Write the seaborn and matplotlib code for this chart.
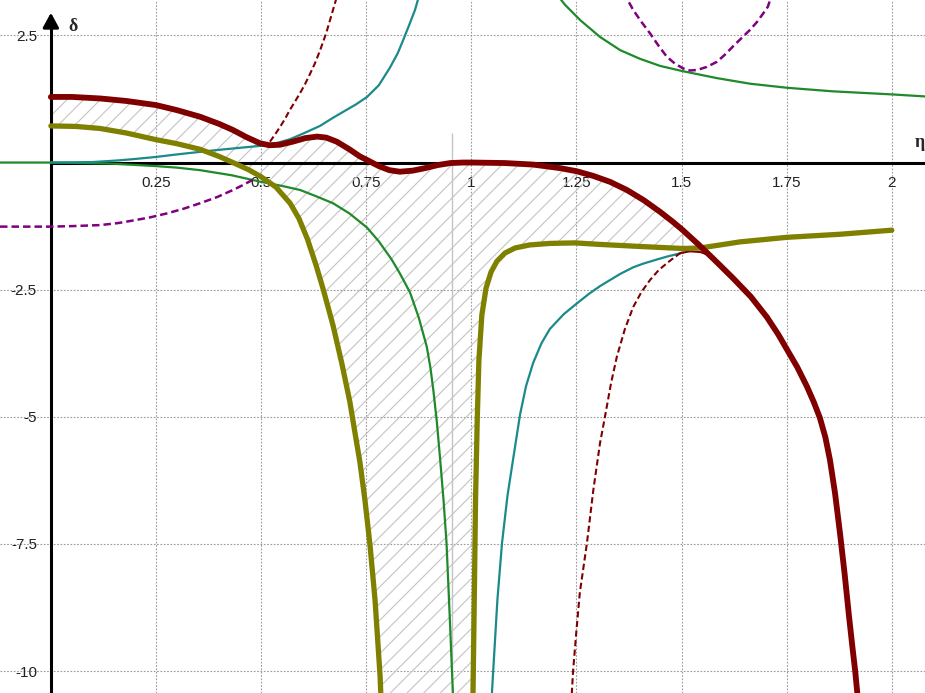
import numpy as np
import matplotlib
matplotlib.use("Agg")
import matplotlib.pyplot as plt
import seaborn as sns

# ---------------------------------------------------------------- data
# thick maroon curve
eta_red = [0.0, 0.05, 0.117, 0.18, 0.25, 0.30, 0.355, 0.40, 0.433, 0.465, 0.497, 0.52,
           0.545, 0.575, 0.605, 0.633, 0.655, 0.68, 0.71, 0.735, 0.752, 0.78, 0.805,
           0.83, 0.86, 0.89, 0.92, 0.95, 0.98, 1.004, 1.08, 1.147, 1.211, 1.25, 1.289,
           1.33, 1.370, 1.41, 1.449, 1.48, 1.503, 1.544, 1.584, 1.622, 1.665, 1.703,
           1.73, 1.751, 1.775, 1.798, 1.815, 1.829, 1.842, 1.853, 1.865, 1.877, 1.888,
           1.898, 1.906, 1.913, 1.918, 1.925]
delta_red = [1.29, 1.29, 1.26, 1.21, 1.13, 1.03, 0.90, 0.76, 0.64, 0.50, 0.38, 0.34,
             0.35, 0.41, 0.48, 0.51, 0.49, 0.41, 0.26, 0.12, 0.05, -0.07, -0.15,
             -0.18, -0.16, -0.11, -0.05, -0.01, 0.0, 0.0, -0.01, -0.04, -0.11, -0.17, -0.26,
             -0.38, -0.54, -0.74, -0.97, -1.17, -1.33, -1.64, -1.96, -2.27, -2.64, -3.04,
             -3.38, -3.68, -4.02, -4.40, -4.72, -5.02, -5.40, -5.85, -6.50, -7.30, -8.10,
             -8.90, -9.50, -10.0, -10.43, -11.5]

# thick olive curve, two branches around its pole
eta_olive_l = [0.0, 0.06, 0.117, 0.18, 0.25, 0.30, 0.355, 0.40, 0.433, 0.47, 0.5, 0.535,
               0.569, 0.59, 0.61, 0.63, 0.648, 0.671, 0.692, 0.711, 0.723, 0.735, 0.747,
               0.759, 0.771, 0.783, 0.790]
delta_olive_l = [0.72, 0.71, 0.67, 0.58, 0.45, 0.37, 0.26, 0.12, 0.0, -0.14, -0.28, -0.48,
                 -0.80, -1.10, -1.50, -2.0, -2.5, -3.20, -3.95, -4.70, -5.30, -5.89, -6.64,
                 -7.52, -8.60, -10.1, -11.5]
eta_olive_r = [1.003, 1.004, 1.007, 1.010, 1.014, 1.018, 1.025, 1.035, 1.047, 1.061,
               1.080, 1.104, 1.139, 1.187, 1.247, 1.306, 1.401, 1.503, 1.544, 1.592,
               1.639, 1.751, 1.877, 2.0]
delta_olive_r = [-11.5, -10.43, -8.60, -6.64, -5.07, -3.89, -3.0, -2.47, -2.15, -1.94,
                 -1.78, -1.68, -1.62, -1.59, -1.58, -1.61, -1.65, -1.69, -1.68, -1.62,
                 -1.56, -1.47, -1.41, -1.33]

# thin green curve
eta_green_l = [-0.121, 0.0, 0.14, 0.25, 0.30, 0.355, 0.43, 0.5, 0.55, 0.593, 0.63,
               0.671, 0.71, 0.752, 0.78, 0.81, 0.83, 0.854, 0.875, 0.894, 0.903, 0.91,
               0.918, 0.926, 0.934, 0.941, 0.949, 0.954, 0.957, 0.959]
delta_green_l = [0.0, 0.0, -0.02, -0.07, -0.10, -0.15, -0.25, -0.38, -0.46, -0.54, -0.66,
                 -0.80, -1.0, -1.28, -1.55, -1.90, -2.18, -2.55, -3.05, -3.62, -4.05, -4.5,
                 -5.1, -5.85, -6.65, -7.48, -9.0, -10.0, -10.6, -11.5]
eta_green_r = [1.199, 1.223, 1.259, 1.306, 1.354, 1.401, 1.449, 1.501, 1.584, 1.663,
               1.751, 1.860, 2.0, 2.079]
delta_green_r = [3.35, 3.10, 2.80, 2.47, 2.21, 2.04, 1.90, 1.80, 1.66, 1.55,
                 1.47, 1.40, 1.34, 1.30]

# thin teal curve
eta_teal_l = [0.0, 0.1, 0.157, 0.2, 0.25, 0.3, 0.355, 0.4, 0.45, 0.5, 0.54, 0.569, 0.6,
              0.64, 0.671, 0.70, 0.725, 0.752, 0.78, 0.806, 0.825, 0.838, 0.852, 0.866,
              0.88]
delta_teal_l = [0.0, 0.01, 0.04, 0.07, 0.11, 0.16, 0.21, 0.25, 0.29, 0.33, 0.39, 0.46,
                0.57, 0.72, 0.88, 1.02, 1.14, 1.29, 1.52, 1.86, 2.15, 2.41, 2.70, 3.0, 3.4]
eta_teal_r = [1.047, 1.049, 1.052, 1.062, 1.073, 1.086, 1.100, 1.116, 1.13, 1.147,
              1.167, 1.187, 1.22, 1.251, 1.28, 1.306, 1.33, 1.354, 1.385, 1.408, 1.44,
              1.465, 1.504]
delta_teal_r = [-11.5, -10.43, -10.0, -8.6, -7.48, -6.55, -5.80, -4.95, -4.40, -3.94,
                -3.55, -3.27, -2.98, -2.77, -2.58, -2.43, -2.31, -2.19, -2.06, -1.99, -1.91,
                -1.85, -1.77]

# thin dashed maroon curve
eta_dred_l = [0.521, 0.533, 0.545, 0.557, 0.568, 0.580, 0.593, 0.605, 0.615, 0.628,
              0.64, 0.655, 0.671, 0.685]
delta_dred_l = [0.41, 0.55, 0.70, 0.86, 1.03, 1.19, 1.37, 1.55, 1.72, 1.95,
                2.2, 2.55, 3.0, 3.4]
eta_dred_r = [1.237, 1.239, 1.242, 1.250, 1.258, 1.275, 1.29, 1.306, 1.318, 1.332,
              1.346, 1.365, 1.385, 1.405, 1.425, 1.445, 1.465, 1.482, 1.497]
delta_dred_r = [-11.5, -10.43, -10.0, -9.2, -8.46, -7.48, -6.45, -5.52, -4.99, -4.35,
                -3.82, -3.28, -2.84, -2.54, -2.31, -2.12, -1.98, -1.87, -1.78]
eta_dred_arc = [1.497, 1.52, 1.545, 1.565]
delta_dred_arc = [-1.78, -1.745, -1.76, -1.82]

# dashed purple curve
eta_purple_l = [-0.121, -0.0975, -0.002, 0.05, 0.117, 0.16, 0.195, 0.235, 0.276, 0.315,
                0.355, 0.395, 0.433, 0.455, 0.48]
delta_purple_l = [-1.26, -1.26, -1.26, -1.25, -1.23, -1.19, -1.14, -1.08, -1.00, -0.91,
                  -0.80, -0.68, -0.54, -0.45, -0.34]
eta_purple_r = [1.375, 1.385, 1.405, 1.425, 1.445, 1.465, 1.485, 1.504, 1.52, 1.537,
                1.56, 1.584, 1.603, 1.622, 1.643, 1.663, 1.68, 1.694, 1.705, 1.715]
delta_purple_r = [3.15, 3.00, 2.76, 2.54, 2.30, 2.08, 1.94, 1.85, 1.81, 1.82,
                  1.88, 1.98, 2.12, 2.28, 2.45, 2.61, 2.77, 2.93, 3.06, 3.3]

# axes, ticks and markers
x_ticks = [0.25, 0.5, 0.75, 1.0, 1.25, 1.5, 1.75, 2.0]
x_tick_labels = ["0.25", "0.5", "0.75", "1", "1.25", "1.5", "1.75", "2"]
y_ticks = [2.5, -2.5, -5, -7.5, -10]
y_tick_labels = ["2.5", "-2.5", "-5", "-7.5", "-10"]
x_range = (-0.121, 2.079)
y_range = (-10.43, 3.196)
hatch_right = 1.503
asymptote_eta = 0.954
asymptote_top = 0.58

# ---------------------------------------------------------------- style
sns.set_theme(style="white")
plt.rcParams["font.family"] = ["Liberation Sans", "DejaVu Sans"]
plt.rcParams["axes.unicode_minus"] = False
plt.rcParams["hatch.linewidth"] = 0.8

MAROON = "#800000"
OLIVE = "#808000"
TEAL = "#1a8a8a"
GREEN = "#1e8a2a"
PURPLE = "#800080"

fig = plt.figure(figsize=(9.25, 6.93), dpi=100)
ax = fig.add_axes([0, 0, 1, 1])
ax.set_facecolor("white")
ax.set_xlim(*x_range)
ax.set_ylim(*y_range)

# axes through the origin
for side in ("top", "right"):
    ax.spines[side].set_visible(False)
ax.spines["left"].set_position(("data", 0))
ax.spines["bottom"].set_position(("data", 0))
for side in ("left", "bottom"):
    ax.spines[side].set_linewidth(2.2)
    ax.spines[side].set_color("black")
    ax.spines[side].set_zorder(2.5)
ax.spines["left"].set_bounds(-12, 2.85)
ax.spines["bottom"].set_bounds(0, 2.2)

ax.set_xticks(x_ticks)
ax.set_xticklabels(x_tick_labels)
ax.set_yticks(y_ticks)
ax.set_yticklabels(y_tick_labels)
ax.tick_params(axis="both", direction="inout", length=15, width=1.2, colors="black",
               labelsize=11, pad=2.5, labelcolor="#222222")

ax.grid(True, color="#9a9a9a", linestyle=(0, (1.5, 1.5)), linewidth=0.8)
ax.set_axisbelow(True)

# hatched region between the maroon (upper) and olive (lower) curves
red_e = np.array(eta_red)
red_d = np.array(delta_red)
keep = red_e <= hatch_right
ol_re = np.array(eta_olive_r)
ol_rd = np.array(delta_olive_r)
keep_o = ol_re <= hatch_right
poly_e = np.concatenate([red_e[keep], ol_re[keep_o][::-1], np.array(eta_olive_l)[::-1]])
poly_d = np.concatenate([red_d[keep], ol_rd[keep_o][::-1], np.array(delta_olive_l)[::-1]])
ax.fill(poly_e, poly_d, facecolor="none", edgecolor="#c4c4c4", hatch="//",
        linewidth=0.9, zorder=1.5)
ax.vlines(asymptote_eta, y_range[0] - 1, asymptote_top, color="#c4c4c4", lw=1.0, zorder=1.5)


def curve(e, d, color, lw, ls="-", z=3):
    sns.lineplot(x=e, y=d, ax=ax, color=color, linewidth=lw, linestyle=ls,
                 sort=False, estimator=None, zorder=z, legend=False,
                 solid_joinstyle="round", solid_capstyle="round")


# thin curves
curve(eta_green_l, delta_green_l, GREEN, 1.6)
curve(eta_green_r, delta_green_r, GREEN, 1.6)
curve(eta_teal_l, delta_teal_l, TEAL, 1.6)
curve(eta_teal_r, delta_teal_r, TEAL, 1.6)
curve(eta_dred_l, delta_dred_l, MAROON, 1.5, (0, (3, 1.6)))
curve(eta_dred_r, delta_dred_r, MAROON, 1.5, (0, (3, 1.6)))
curve(eta_dred_arc, delta_dred_arc, MAROON, 1.5)
curve(eta_purple_l, delta_purple_l, PURPLE, 1.8, (0, (3, 1.6)))
curve(eta_purple_r, delta_purple_r, PURPLE, 1.8, (0, (3, 1.6)))

# thick curves
curve(eta_olive_l, delta_olive_l, OLIVE, 3.8, z=4)
curve(eta_olive_r, delta_olive_r, OLIVE, 3.8, z=4)
curve(eta_red, delta_red, MAROON, 4.2, z=5)

# arrow on the vertical axis and axis names
ax.annotate("", xy=(0, 3.0), xytext=(0, 2.6),
            arrowprops=dict(arrowstyle="-|>,head_length=0.55,head_width=0.3",
                            color="black", lw=2.2, mutation_scale=16),
            zorder=6, annotation_clip=False)
ax.text(0.052, 2.68, "δ", fontsize=13, fontweight="bold",
        family=["Liberation Serif", "DejaVu Serif"], ha="center", va="center")
ax.text(2.054, 0.40, "η", fontsize=13, fontweight="bold",
        family=["Liberation Serif", "DejaVu Serif"], ha="left", va="center")

fig.savefig("out.png", dpi=100)
